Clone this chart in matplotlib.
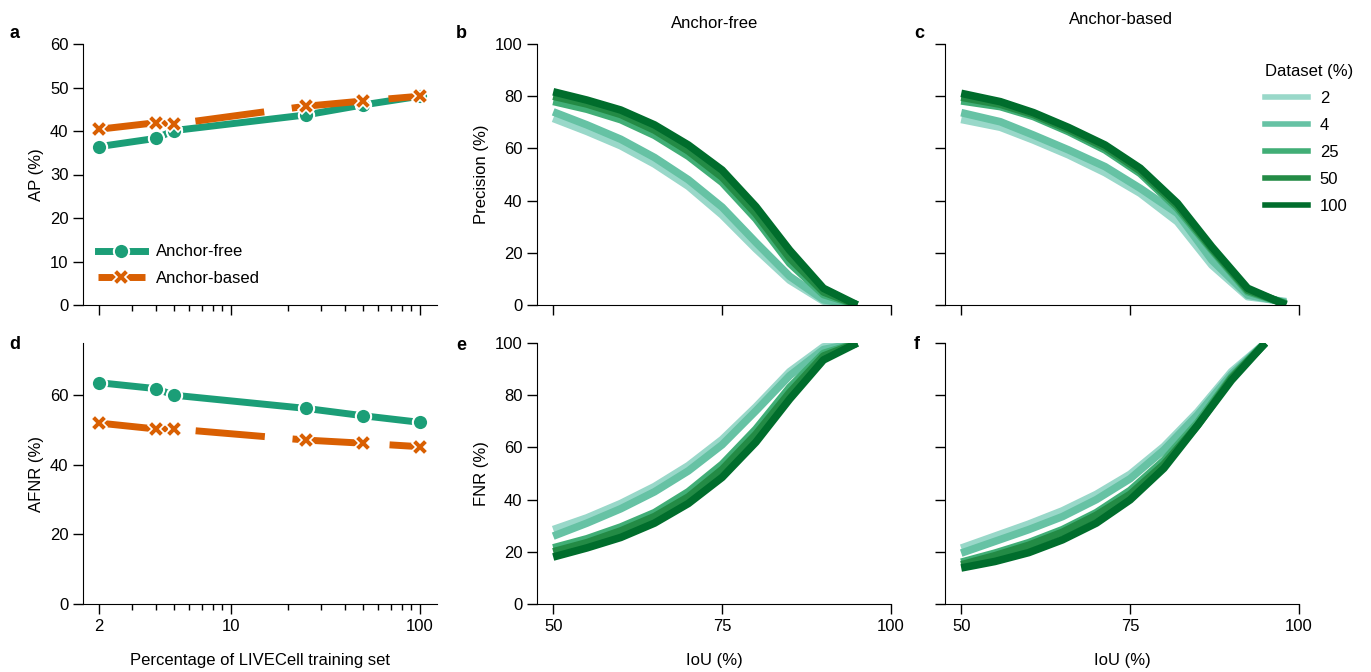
import numpy as np
import matplotlib
matplotlib.use("Agg")
import matplotlib.pyplot as plt
from matplotlib.lines import Line2D

plt.rcParams['font.family'] = ['Liberation Sans', 'DejaVu Sans']
plt.rcParams['font.size'] = 12

# training set fraction (%) for panels a and d
train_pct = [2, 4, 5, 25, 50, 100]
ap_free = [36.4, 38.3, 40.1, 43.7, 46.0, 48.0]
ap_based = [40.4, 41.9, 41.6, 45.7, 46.9, 48.0]
afnr_free = [63.6, 61.9, 60.0, 56.2, 54.1, 52.2]
afnr_based = [52.0, 50.3, 50.3, 47.1, 46.2, 45.2]

# IoU thresholds for panels b, e, f
iou = [50, 55, 60, 65, 70, 75, 80, 85, 90, 95]
# panel c points sit a little wider apart in the original figure
iou_c = [50, 55.8, 60.7, 65.9, 71.3, 76.5, 82.0, 87.1, 92.4, 98.1]
datasets = ['2', '4', '25', '50', '100']

prec_free = {
    '2':   [71.5, 66.5, 61.0, 54.0, 45.5, 34.5, 21.5, 9.5, 1.5, 0.0],
    '4':   [74.0, 69.0, 63.5, 56.5, 48.0, 37.5, 24.0, 11.0, 2.0, 0.0],
    '25':  [78.0, 75.0, 71.0, 65.0, 57.0, 47.0, 33.0, 16.0, 4.0, 0.0],
    '50':  [80.0, 77.0, 73.0, 67.0, 59.0, 49.0, 35.0, 18.0, 5.0, 0.0],
    '100': [81.7, 78.5, 74.7, 69.0, 61.3, 51.7, 37.7, 21.0, 6.4, 0.0],
}
prec_based = {
    '2':   [71.1, 68.1, 63.2, 57.5, 50.7, 42.8, 31.9, 15.3, 3.2, 1.3],
    '4':   [73.7, 70.2, 65.1, 59.4, 53.0, 44.7, 35.1, 17.2, 3.8, 1.0],
    '25':  [78.2, 76.0, 72.2, 66.4, 59.4, 50.4, 37.0, 21.0, 5.1, 0.5],
    '50':  [79.6, 76.9, 73.0, 67.2, 60.4, 51.4, 38.0, 21.6, 5.7, 0.3],
    '100': [81.1, 77.9, 73.7, 68.0, 61.3, 52.4, 39.0, 22.3, 6.4, 0.0],
}
fnr_free = {
    '2':   [28.5, 33.0, 38.5, 45.0, 53.0, 63.0, 75.5, 89.0, 98.5, 100.0],
    '4':   [26.0, 31.0, 36.5, 43.0, 51.0, 61.0, 74.0, 87.5, 97.5, 100.0],
    '25':  [21.5, 25.0, 29.5, 35.0, 43.0, 53.5, 67.0, 83.0, 96.0, 100.0],
    '50':  [20.0, 23.5, 28.0, 33.5, 41.0, 51.5, 65.0, 81.0, 95.0, 100.0],
    '100': [18.0, 21.5, 25.5, 31.0, 38.5, 48.5, 62.0, 78.5, 93.5, 100.0],
}
fnr_based = {
    '2':   [21.4, 26.0, 30.6, 35.7, 42.0, 49.7, 60.3, 73.6, 89.0, 100.0],
    '4':   [19.5, 24.0, 28.5, 33.5, 40.0, 48.0, 59.0, 72.5, 88.0, 100.0],
    '25':  [16.0, 19.5, 23.5, 28.5, 35.0, 43.5, 55.0, 69.5, 87.0, 100.0],
    '50':  [15.0, 18.5, 22.5, 27.5, 34.0, 42.0, 53.5, 68.5, 86.5, 100.0],
    '100': [13.8, 16.3, 19.7, 24.6, 31.0, 39.9, 52.0, 68.5, 85.7, 100.0],
}

green_cols = {'2': '#99d8c9', '4': '#66c2a4', '25': '#41ae76', '50': '#238b45', '100': '#006d2c'}
col_free = '#1b9e77'
col_based = '#d95f02'

W, H = 1371, 672
fig = plt.figure(figsize=(W / 100, H / 100), dpi=100)


def px_axes(l, t, r, b):
    return fig.add_axes([l / W, 1 - b / H, (r - l) / W, (b - t) / H])


def style(ax):
    for s in ['top', 'right']:
        ax.spines[s].set_visible(False)
    ax.tick_params(which='major', length=7, width=1, labelsize=12)
    ax.tick_params(which='minor', length=4, width=1)


ax_a = px_axes(83, 44, 437, 305)
ax_b = px_axes(537, 44, 891, 305)
ax_c = px_axes(945, 44, 1299, 305)
ax_d = px_axes(83, 343, 437, 604)
ax_e = px_axes(537, 343, 891, 604)
ax_f = px_axes(945, 343, 1299, 604)

# panels a and d
for ax, free, based, ylim, yticks, ylab in [
        (ax_a, ap_free, ap_based, (0, 60), [0, 10, 20, 30, 40, 50, 60], 'AP (%)'),
        (ax_d, afnr_free, afnr_based, (0, 75), [0, 20, 40, 60], 'AFNR (%)')]:
    ax.plot(train_pct, free, color=col_free, lw=5, marker='o', ms=11,
            mec='white', mew=1.5, label='Anchor-free', zorder=3)
    ax.plot(train_pct, based, color=col_based, lw=5, marker='X', ms=12,
            mec='white', mew=1.2, dashes=(10, 4), label='Anchor-based', zorder=4)
    ax.set_xscale('log')
    ax.set_xlim(1.65, 123)
    ax.set_ylim(*ylim)
    ax.set_yticks(yticks)
    ax.set_xticks([2, 10, 100])
    ax.set_xticklabels(['2', '10', '100'])
    ax.set_ylabel(ylab, fontsize=12)
    style(ax)

ax_a.tick_params(axis='x', labelbottom=False)
ax_d.set_xlabel('Percentage of LIVECell training set', fontsize=12, labelpad=14)
ax_a.legend(loc='lower left', bbox_to_anchor=(0.0, 0.015), frameon=False, fontsize=12,
            handlelength=2.8, handletextpad=0.7, labelspacing=0.7)

# panels b, c, e, f
for ax, xs, data in [(ax_b, iou, prec_free), (ax_c, iou_c, prec_based),
                     (ax_e, iou, fnr_free), (ax_f, iou, fnr_based)]:
    for d in datasets:
        ax.plot(xs, data[d], color=green_cols[d], lw=5.5, solid_capstyle='butt')
    ax.set_xlim(47.6, 100)
    ax.set_ylim(0, 100)
    ax.set_xticks([50, 75, 100])
    ax.set_yticks([0, 20, 40, 60, 80, 100])
    style(ax)

ax_b.tick_params(axis='x', labelbottom=False)
ax_c.tick_params(axis='x', labelbottom=False)
ax_c.tick_params(axis='y', labelleft=False)
ax_f.tick_params(axis='y', labelleft=False)
ax_b.set_ylabel('Precision (%)', fontsize=12)
ax_e.set_ylabel('FNR (%)', fontsize=12)
ax_e.set_xlabel('IoU (%)', fontsize=12, labelpad=14)
ax_f.set_xlabel('IoU (%)', fontsize=12, labelpad=14)

fig.text(715 / W, 1 - 24 / H, 'Anchor-free', ha='center', va='center', fontsize=12)
fig.text(1121 / W, 1 - 20 / H, 'Anchor-based', ha='center', va='center', fontsize=12)

handles = [Line2D([], [], color=green_cols[d], lw=4) for d in datasets]
leg = fig.legend(handles, datasets, title='Dataset (%)', loc='upper left',
                 bbox_to_anchor=(1253 / W, 1 - 52 / H), frameon=False, fontsize=12,
                 title_fontsize=12, handlelength=2.6, handletextpad=0.7, labelspacing=0.72,
                 borderpad=0.2)
leg._legend_box.align = 'left'

# panel letters
for lab, x, y in [('a', 15, 33), ('b', 461, 33), ('c', 919, 33),
                  ('d', 15, 345), ('e', 461, 346), ('f', 917, 345)]:
    fig.text(x / W, 1 - y / H, lab, ha='center', va='center', fontsize=13, fontweight='bold')

fig.savefig('out.png', dpi=100)
